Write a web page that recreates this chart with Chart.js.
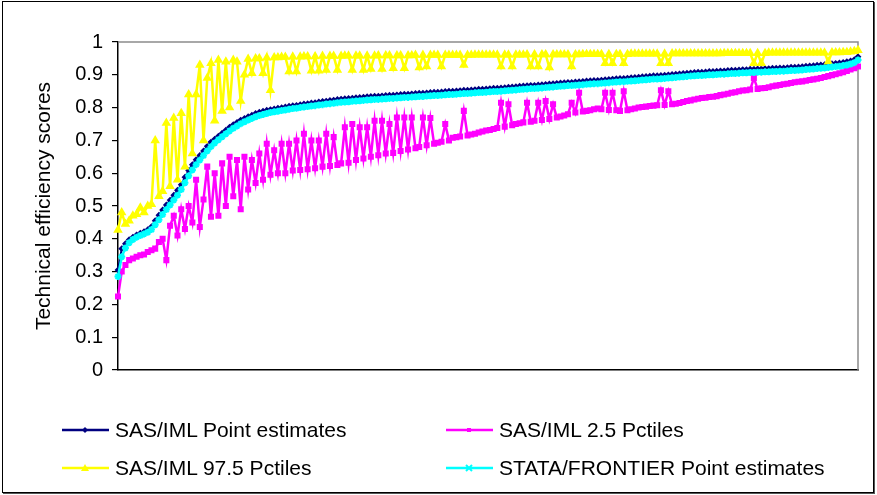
<!DOCTYPE html>
<html lang="en">
<head>
    <meta charset="UTF-8">
    <title>Technical efficiency scores</title>
    <script src="https://cdn.jsdelivr.net/npm/chart.js"></script>
    <style>
        body { margin: 0; background: #fff; }
        #wrap { position: relative; width: 877px; height: 495px; overflow: hidden; }
        #frame { position: absolute; left: 2px; top: 1px; width: 870px; height: 490px; border: 1px solid #000; box-shadow: 1px 1px 0 #555; }
        #chart { position: absolute; left: 0; top: 0; }
        .leg { position: absolute; font-family: "Liberation Sans", Arial, sans-serif; font-size: 21px; color: #000; white-space: nowrap; line-height: 24px; }
        .leg svg { position: absolute; left: -53px; top: 7px; }
    </style>
</head>
<body>
<div id="wrap">
    <div id="frame"></div>
    <canvas id="chart" width="877" height="495"></canvas>
    <div class="leg" style="left:115px; top:418px;"><svg width="48" height="10"><line x1="0" y1="5" x2="47" y2="5" stroke="#000080" stroke-width="2.5"/><polygon points="23,2 26,5 23,8 20,5" fill="#000080"/></svg>SAS/IML Point estimates</div>
    <div class="leg" style="left:499px; top:418px;"><svg width="48" height="10"><line x1="0" y1="5" x2="47" y2="5" stroke="#ff00ff" stroke-width="2.5"/><rect x="21" y="3" width="4" height="4" fill="#ff00ff"/></svg>SAS/IML 2.5 Pctiles</div>
    <div class="leg" style="left:115px; top:456px;"><svg width="48" height="10"><line x1="0" y1="5" x2="47" y2="5" stroke="#ffff00" stroke-width="2.5"/><polygon points="23,1 27,8 19,8" fill="#ffff00"/></svg>SAS/IML 97.5 Pctiles</div>
    <div class="leg" style="left:499px; top:456px;"><svg width="48" height="10"><line x1="0" y1="5" x2="47" y2="5" stroke="#00ffff" stroke-width="2.5"/><path d="M20,2 L26,8 M26,2 L20,8" stroke="#00ffff" stroke-width="2"/></svg>STATA/FRONTIER Point estimates</div>
</div>
<script>
    // series names
    const seriesNames = ['SAS/IML Point estimates', 'SAS/IML 2.5 Pctiles', 'SAS/IML 97.5 Pctiles', 'STATA/FRONTIER Point estimates'];

    // y axis tick labels
    const yTickLabels = ['0', '0.1', '0.2', '0.3', '0.4', '0.5', '0.6', '0.7', '0.8', '0.9', '1'];

    // SAS/IML point estimates (sorted firms)
    const sasPoint = [
        0.305,0.370,0.385,0.397,0.405,0.412,0.417,0.422,0.428,0.437,
        0.455,0.472,0.488,0.503,0.518,0.533,0.548,0.565,0.588,0.608,
        0.626,0.641,0.654,0.668,0.682,0.695,0.704,0.713,0.722,0.731,
        0.740,0.748,0.755,0.762,0.767,0.772,0.777,0.782,0.786,0.789,
        0.792,0.794,0.796,0.798,0.800,0.802,0.804,0.806,0.807,0.809,
        0.811,0.812,0.814,0.815,0.817,0.819,0.820,0.822,0.823,0.825,
        0.826,0.827,0.828,0.829,0.830,0.831,0.832,0.833,0.834,0.835,
        0.835,0.836,0.837,0.838,0.838,0.839,0.840,0.841,0.841,0.842,
        0.843,0.844,0.844,0.845,0.846,0.847,0.847,0.848,0.849,0.850,
        0.850,0.851,0.852,0.853,0.853,0.854,0.855,0.856,0.856,0.857,
        0.858,0.859,0.859,0.860,0.861,0.862,0.863,0.864,0.865,0.866,
        0.867,0.868,0.868,0.869,0.870,0.871,0.872,0.873,0.874,0.875,
        0.876,0.877,0.877,0.878,0.879,0.880,0.881,0.882,0.883,0.883,
        0.884,0.885,0.886,0.887,0.888,0.889,0.889,0.890,0.891,0.892,
        0.893,0.894,0.895,0.896,0.897,0.897,0.898,0.899,0.900,0.901,
        0.902,0.903,0.904,0.905,0.906,0.907,0.908,0.908,0.909,0.910,
        0.910,0.911,0.912,0.912,0.913,0.914,0.914,0.915,0.916,0.916,
        0.917,0.917,0.918,0.918,0.919,0.919,0.920,0.920,0.921,0.921,
        0.922,0.923,0.923,0.924,0.925,0.926,0.927,0.928,0.929,0.930,
        0.931,0.932,0.934,0.935,0.936,0.938,0.940,0.942,0.946,0.955
    ];

    // SAS/IML 2.5 percentiles
    const sasLow = [
        0.224,0.300,0.320,0.335,0.340,0.345,0.350,0.352,0.360,0.365,
        0.370,0.390,0.400,0.335,0.440,0.470,0.410,0.490,0.430,0.500,
        0.450,0.580,0.436,0.520,0.620,0.467,0.600,0.470,0.630,0.500,
        0.650,0.530,0.640,0.490,0.650,0.550,0.640,0.570,0.660,0.580,
        0.690,0.595,0.670,0.600,0.690,0.600,0.690,0.608,0.700,0.610,
        0.720,0.612,0.700,0.615,0.700,0.620,0.720,0.622,0.710,0.625,
        0.630,0.740,0.632,0.750,0.640,0.740,0.645,0.740,0.650,0.760,
        0.655,0.760,0.660,0.750,0.662,0.770,0.668,0.770,0.672,0.770,
        0.676,0.680,0.770,0.685,0.768,0.690,0.693,0.696,0.750,0.700,
        0.708,0.710,0.712,0.790,0.715,0.718,0.720,0.724,0.727,0.730,
        0.732,0.735,0.738,0.815,0.742,0.810,0.746,0.750,0.752,0.755,
        0.815,0.757,0.760,0.815,0.762,0.820,0.765,0.810,0.770,0.773,
        0.776,0.780,0.815,0.785,0.845,0.788,0.790,0.792,0.795,0.797,
        0.795,0.845,0.793,0.845,0.792,0.790,0.850,0.792,0.795,0.797,
        0.800,0.802,0.803,0.805,0.806,0.807,0.853,0.808,0.850,0.810,
        0.812,0.814,0.817,0.820,0.822,0.825,0.827,0.829,0.830,0.832,
        0.833,0.835,0.838,0.840,0.842,0.845,0.847,0.850,0.852,0.853,
        0.855,0.890,0.857,0.859,0.860,0.862,0.865,0.867,0.869,0.871,
        0.873,0.875,0.877,0.879,0.880,0.882,0.884,0.886,0.888,0.890,
        0.893,0.896,0.899,0.902,0.905,0.908,0.912,0.916,0.920,0.925
    ];

    // SAS/IML 97.5 percentiles
    const sasHigh = [
        0.427,0.480,0.445,0.455,0.470,0.475,0.495,0.480,0.500,0.505,
        0.700,0.530,0.545,0.753,0.560,0.768,0.580,0.783,0.620,0.840,
        0.660,0.840,0.930,0.700,0.890,0.935,0.760,0.945,0.790,0.940,
        0.800,0.945,0.940,0.820,0.900,0.948,0.905,0.950,0.950,0.905,
        0.952,0.853,0.953,0.953,0.954,0.954,0.910,0.955,0.910,0.955,
        0.956,0.956,0.912,0.956,0.912,0.957,0.915,0.957,0.957,0.915,
        0.957,0.958,0.958,0.915,0.958,0.958,0.915,0.958,0.918,0.958,
        0.959,0.918,0.959,0.959,0.920,0.959,0.959,0.920,0.959,0.959,
        0.960,0.922,0.960,0.925,0.960,0.960,0.960,0.925,0.960,0.960,
        0.960,0.960,0.960,0.930,0.960,0.960,0.961,0.961,0.961,0.961,
        0.961,0.961,0.961,0.925,0.961,0.961,0.925,0.961,0.961,0.961,
        0.962,0.925,0.962,0.925,0.962,0.962,0.922,0.962,0.962,0.962,
        0.962,0.962,0.925,0.962,0.962,0.963,0.963,0.963,0.963,0.963,
        0.963,0.935,0.963,0.935,0.963,0.963,0.935,0.963,0.964,0.964,
        0.964,0.964,0.964,0.964,0.964,0.964,0.935,0.964,0.935,0.965,
        0.965,0.965,0.965,0.965,0.965,0.965,0.965,0.965,0.965,0.965,
        0.965,0.965,0.965,0.966,0.966,0.966,0.966,0.966,0.966,0.966,
        0.966,0.935,0.966,0.935,0.966,0.967,0.967,0.967,0.967,0.967,
        0.967,0.967,0.967,0.967,0.967,0.967,0.967,0.967,0.967,0.967,
        0.967,0.940,0.968,0.968,0.968,0.969,0.969,0.970,0.972,0.975
    ];

    // STATA/FRONTIER point estimates
    const stataPoint = [
        0.285,0.345,0.372,0.388,0.398,0.405,0.410,0.415,0.420,0.428,
        0.443,0.458,0.474,0.489,0.503,0.518,0.533,0.550,0.571,0.592,
        0.610,0.626,0.640,0.654,0.668,0.681,0.692,0.702,0.711,0.720,
        0.729,0.737,0.744,0.751,0.757,0.762,0.767,0.772,0.776,0.779,
        0.782,0.785,0.787,0.789,0.791,0.793,0.795,0.797,0.798,0.800,
        0.802,0.803,0.805,0.806,0.808,0.809,0.811,0.812,0.813,0.815,
        0.816,0.817,0.818,0.819,0.820,0.821,0.822,0.823,0.824,0.825,
        0.825,0.826,0.827,0.828,0.828,0.829,0.830,0.831,0.831,0.832,
        0.833,0.834,0.834,0.835,0.836,0.837,0.837,0.838,0.839,0.840,
        0.840,0.841,0.842,0.843,0.843,0.844,0.845,0.846,0.846,0.847,
        0.848,0.849,0.849,0.850,0.851,0.852,0.853,0.854,0.855,0.856,
        0.857,0.858,0.858,0.859,0.860,0.861,0.862,0.863,0.864,0.865,
        0.866,0.867,0.867,0.868,0.869,0.870,0.871,0.872,0.873,0.873,
        0.874,0.875,0.876,0.877,0.878,0.879,0.879,0.880,0.881,0.882,
        0.883,0.884,0.885,0.886,0.887,0.887,0.888,0.889,0.890,0.891,
        0.892,0.893,0.894,0.895,0.896,0.897,0.898,0.898,0.899,0.900,
        0.900,0.901,0.902,0.902,0.903,0.904,0.904,0.905,0.906,0.906,
        0.907,0.907,0.908,0.908,0.909,0.909,0.910,0.910,0.911,0.911,
        0.912,0.913,0.913,0.914,0.915,0.916,0.917,0.918,0.919,0.920,
        0.921,0.922,0.924,0.925,0.926,0.928,0.930,0.933,0.937,0.945
    ];

    // one category per firm, no labels shown on the x axis
    const firms = sasPoint.map((v, i) => i + 1);

    const FONT = '"Liberation Sans", Arial, sans-serif';

    // gray top/right edge of the plot area
    const plotFrame = {
        id: 'plotFrame',
        beforeDatasetsDraw(chart) {
            const {ctx, chartArea: a} = chart;
            ctx.save();
            ctx.strokeStyle = '#8c8c8c';
            ctx.lineWidth = 1.5;
            ctx.beginPath();
            ctx.moveTo(a.left, a.top);
            ctx.lineTo(a.right, a.top);
            ctx.lineTo(a.right, a.bottom);
            ctx.stroke();
            ctx.restore();
        }
    };

    new Chart(document.getElementById('chart'), {
        type: 'line',
        data: {
            labels: firms,
            datasets: [
                {
                    label: seriesNames[0],
                    data: sasPoint,
                    borderColor: '#000080',
                    backgroundColor: '#000080',
                    borderWidth: 2,
                    pointStyle: 'rectRot',
                    pointRadius: 2,
                    order: 4
                },
                {
                    label: seriesNames[1],
                    data: sasLow,
                    borderColor: '#ff00ff',
                    backgroundColor: '#ff00ff',
                    borderWidth: 2.5,
                    pointStyle: 'rect',
                    pointRadius: 2.5,
                    order: 3
                },
                {
                    label: seriesNames[2],
                    data: sasHigh,
                    borderColor: '#ffff00',
                    backgroundColor: '#ffff00',
                    borderWidth: 2.5,
                    pointStyle: 'triangle',
                    pointRadius: 3,
                    order: 2
                },
                {
                    label: seriesNames[3],
                    data: stataPoint,
                    borderColor: '#00ffff',
                    backgroundColor: '#00ffff',
                    borderWidth: 2.5,
                    pointStyle: 'star',
                    pointRadius: 3.5,
                    pointBorderWidth: 2,
                    order: 1
                }
            ]
        },
        options: {
            responsive: false,
            animation: false,
            devicePixelRatio: 1,
            events: [],
            layout: { padding: { left: 0, top: 42, right: 19, bottom: 125 } },
            plugins: {
                legend: { display: false },
                tooltip: { enabled: false }
            },
            scales: {
                x: {
                    ticks: { display: false },
                    grid: { display: false, drawTicks: false },
                    border: { color: '#000', width: 1.5 },
                    afterFit: s => { s.height = 0; }
                },
                y: {
                    min: 0,
                    max: 1,
                    ticks: {
                        stepSize: 0.1,
                        padding: 9,
                        color: '#000',
                        font: { family: FONT, size: 20 },
                        callback: (v, i) => yTickLabels[i]
                    },
                    grid: { drawOnChartArea: false, tickLength: 6, color: '#000', lineWidth: 1.2 },
                    border: { color: '#000', width: 1.5 },
                    title: {
                        display: true,
                        text: 'Technical efficiency scores',
                        color: '#000',
                        font: { family: FONT, size: 21, lineHeight: 1.2 },
                        padding: { top: 32, bottom: 0 }
                    },
                    afterFit: s => { s.width = 118; }
                }
            }
        },
        plugins: [plotFrame]
    });
</script>
</body>
</html>
